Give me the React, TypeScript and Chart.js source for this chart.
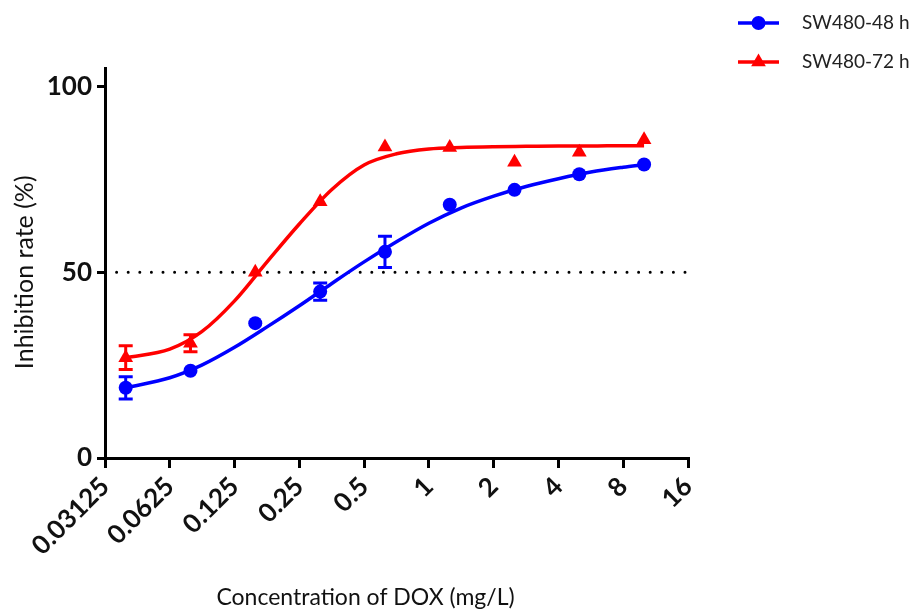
import React, { useEffect, useRef } from "react";
import { Chart, registerables } from "chart.js";
Chart.register(...registerables);

const X_TICKS = [0.03125, 0.0625, 0.125, 0.25, 0.5, 1, 2, 4, 8, 16];
const X_TICK_LABELS = ["0.03125", "0.0625", "0.125", "0.25", "0.5", "1", "2", "4", "8", "16"];
const Y_TICKS = [0, 50, 100];
const Y_MAX = 105;
const REF_LINE = 50;

const SERIES_NAMES = ["SW480-48 h", "SW480-72 h"];
const CONC = [0.039, 0.078, 0.156, 0.3125, 0.625, 1.25, 2.5, 5, 10];
const SW48_MEAN = [18.9, 23.5, 36.3, 44.8, 55.5, 68.2, 72.2, 76.4, 79.0];
const SW48_ERR = [3.0, 0, 0, 2.3, 4.2, 0, 0, 0, 0];
const SW72_MEAN = [27.0, 30.9, 50.0, 69.0, 83.7, 83.6, 79.6, 82.3, 85.7];
const SW72_ERR = [3.2, 2.3, 0, 0, 0, 0, 0, 0, 0];

const FIT_CONC = [0.039, 0.0625, 0.088, 0.125, 0.177, 0.25, 0.354, 0.5, 0.707, 1, 1.41, 2, 2.83, 4, 5.66, 8, 10];
const FIT48 = [18.9, 21.6, 25.0, 29.8, 35.3, 41.0, 47.0, 52.8, 58.2, 63.2, 67.3, 70.5, 73.1, 75.2, 77.0, 78.3, 79.0];
const FIT72 = [27.0, 29.3, 34.0, 42.3, 52.8, 63.0, 72.3, 78.9, 81.9, 83.2, 83.6, 83.8, 83.9, 84.0, 84.0, 84.1, 84.1];

const X_TITLE = "Concentration of DOX (mg/L)";
const Y_TITLE = "Inhibition rate (%)";

const BLUE = "#0000FF";
const RED = "#FF0000";
const FONT = "Lato";

const pts = (xs: number[], ys: number[]) => xs.map((x, i) => ({ x, y: ys[i] }));

export default function App() {
  const ref = useRef<HTMLCanvasElement>(null);
  useEffect(() => {
    const errorBars = {
      id: "errorBars",
      afterDatasetsDraw(chart: any) {
        const { ctx, scales } = chart;
        const sx = scales.x, sy = scales.y;
        const sets = [
          { mean: SW48_MEAN, err: SW48_ERR, color: BLUE },
          { mean: SW72_MEAN, err: SW72_ERR, color: RED },
        ];
        ctx.save();
        sets.forEach((s) => {
          ctx.strokeStyle = s.color;
          ctx.lineWidth = 3;
          CONC.forEach((c, i) => {
            const e = s.err[i];
            if (!e) return;
            const px = sx.getPixelForValue(c);
            const top = sy.getPixelForValue(s.mean[i] + e);
            const bot = sy.getPixelForValue(s.mean[i] - e);
            ctx.beginPath();
            ctx.moveTo(px, top);
            ctx.lineTo(px, bot);
            ctx.moveTo(px - 7, top);
            ctx.lineTo(px + 7, top);
            ctx.moveTo(px - 7, bot);
            ctx.lineTo(px + 7, bot);
            ctx.stroke();
          });
        });
        ctx.restore();
      },
    };

    const titles = {
      id: "titles",
      afterDraw(chart: any) {
        const { ctx, chartArea, scales } = chart;
        ctx.save();
        ctx.fillStyle = "#111";
        ctx.textAlign = "center";
        ctx.textBaseline = "middle";
        ctx.font = `23px ${FONT}`;
        ctx.fillText(X_TITLE, (chartArea.left - 78 + chartArea.right + 16) / 2, 598);
        ctx.translate(25, scales.y.getPixelForValue(REF_LINE));
        ctx.rotate(-Math.PI / 2);
        ctx.font = `25px ${FONT}`;
        ctx.fillText(Y_TITLE, 0, 0);
        ctx.restore();
      },
    };

    const legend = {
      id: "customLegend",
      afterDraw(chart: any) {
        const { ctx } = chart;
        const colors = [BLUE, RED];
        ctx.save();
        SERIES_NAMES.forEach((name, i) => {
          const y = 23 + i * 39;
          ctx.strokeStyle = colors[i];
          ctx.fillStyle = colors[i];
          ctx.lineWidth = 3.5;
          ctx.beginPath();
          ctx.moveTo(738, y);
          ctx.lineTo(779, y);
          ctx.stroke();
          if (i === 0) {
            ctx.beginPath();
            ctx.arc(758.5, y, 7, 0, Math.PI * 2);
            ctx.fill();
          } else {
            const r = 8.5;
            ctx.beginPath();
            ctx.moveTo(758.5, y - r);
            ctx.lineTo(758.5 + r * 0.866, y + r * 0.5);
            ctx.lineTo(758.5 - r * 0.866, y + r * 0.5);
            ctx.closePath();
            ctx.fill();
          }
          ctx.fillStyle = "#222";
          ctx.font = `19px ${FONT}`;
          ctx.textAlign = "left";
          ctx.textBaseline = "middle";
          ctx.fillText(name, 802, y);
        });
        ctx.restore();
      },
    };

    const chart = new Chart(ref.current!, {
      type: "line",
      data: {
        datasets: [
          {
            label: SERIES_NAMES[0] + " points",
            data: pts(CONC, SW48_MEAN),
            showLine: false,
            pointStyle: "circle",
            pointRadius: 7,
            backgroundColor: BLUE,
            borderColor: BLUE,
            borderWidth: 0,
          },
          {
            label: SERIES_NAMES[1] + " points",
            data: pts(CONC, SW72_MEAN),
            showLine: false,
            pointStyle: "triangle",
            pointRadius: 8.5,
            backgroundColor: RED,
            borderColor: RED,
            borderWidth: 0,
          },
          {
            label: SERIES_NAMES[0] + " fit",
            data: pts(FIT_CONC, FIT48),
            borderColor: BLUE,
            borderWidth: 3.5,
            pointRadius: 0,
            cubicInterpolationMode: "monotone",
            fill: false,
          },
          {
            label: SERIES_NAMES[1] + " fit",
            data: pts(FIT_CONC, FIT72),
            borderColor: RED,
            borderWidth: 3.5,
            pointRadius: 0,
            cubicInterpolationMode: "monotone",
            fill: false,
          },
          {
            label: "50%",
            data: [
              { x: X_TICKS[0], y: REF_LINE },
              { x: X_TICKS[X_TICKS.length - 1], y: REF_LINE },
            ],
            borderColor: "#000",
            borderWidth: 3,
            borderDash: [0, 11.6],
            borderCapStyle: "round",
            pointRadius: 0,
          },
        ] as any,
      },
      options: {
        responsive: false,
        animation: false,
        layout: { padding: { top: 68, right: 226, left: 0, bottom: 0 } },
        plugins: { legend: { display: false }, tooltip: { enabled: false } },
        elements: { line: { tension: 0 } },
        scales: {
          x: {
            type: "logarithmic",
            min: X_TICKS[0],
            max: X_TICKS[X_TICKS.length - 1],
            afterBuildTicks: (s: any) => {
              s.ticks = X_TICKS.map((v) => ({ value: v }));
            },
            afterFit: (s: any) => {
              s.height = 156;
            },
            ticks: {
              autoSkip: false,
              minRotation: 45,
              maxRotation: 45,
              padding: 3,
              color: "#111",
              font: { family: FONT, size: 26, weight: "bold" },
              callback: (_v: any, i: number) => X_TICK_LABELS[i],
            },
            grid: {
              display: true,
              drawOnChartArea: false,
              drawTicks: true,
              tickLength: 10,
              tickWidth: 3,
              tickColor: "#000",
              lineWidth: 3,
            },
            border: { display: true, color: "#000", width: 3 },
          },
          y: {
            type: "linear",
            min: 0,
            max: Y_MAX,
            afterBuildTicks: (s: any) => {
              s.ticks = Y_TICKS.map((v) => ({ value: v }));
            },
            afterFit: (s: any) => {
              s.width = 105;
            },
            ticks: {
              padding: 5,
              color: "#111",
              font: { family: FONT, size: 26, weight: "bold" },
            },
            grid: {
              display: true,
              drawOnChartArea: false,
              drawTicks: true,
              tickLength: 8,
              tickWidth: 3,
              tickColor: "#000",
              lineWidth: 3,
            },
            border: { display: true, color: "#000", width: 3 },
          },
        },
      } as any,
      plugins: [errorBars, titles, legend],
    });
    return () => chart.destroy();
  }, []);
  return (
    <div style={{ position: "fixed", left: 0, top: 0, width: 914, height: 614, background: "#fff" }}>
      <canvas ref={ref} width={914} height={614} style={{ display: "block" }} />
    </div>
  );
}
